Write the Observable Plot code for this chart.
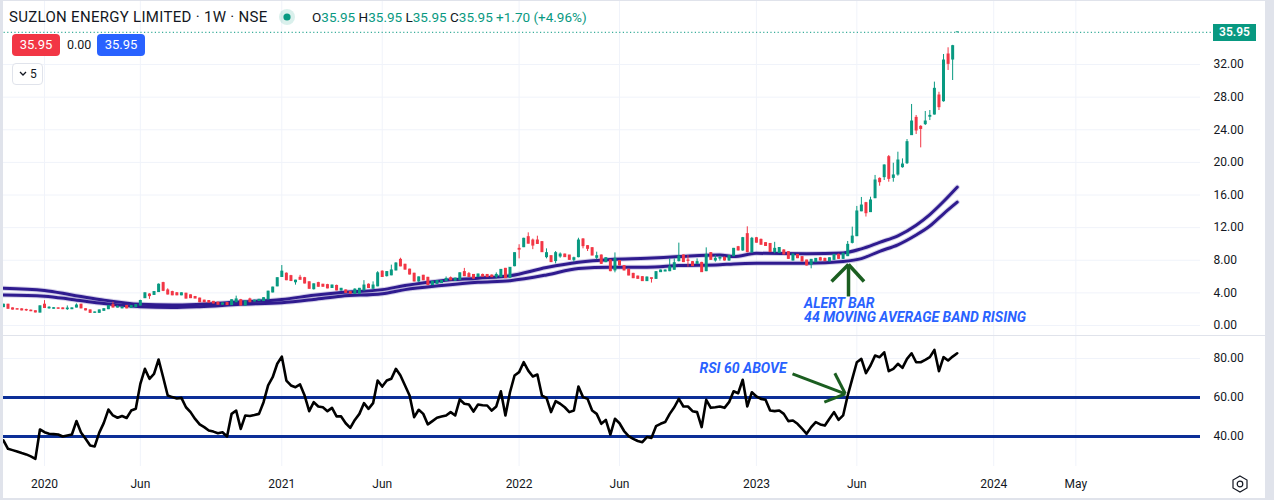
<!DOCTYPE html>
<html><head><meta charset="utf-8">
<script src="https://cdn.jsdelivr.net/npm/d3@7"></script>
<script src="https://cdn.jsdelivr.net/npm/@observablehq/plot@0.6"></script>
<style>
html,body{margin:0;padding:0;background:#fff;}
#wrap{position:relative;width:1274px;height:500px;overflow:hidden;background:#fff;font-family:Roboto,"Noto Sans",sans-serif;color:#131722;}
.abs{position:absolute;}
.svgpane{position:absolute;left:0;}
.gray{position:absolute;background:#e0e3eb;z-index:5;}
.box{position:absolute;height:22px;line-height:22px;border-radius:4px;color:#fff;font-size:13px;text-align:center;z-index:4;}
</style></head>
<body><div id="wrap">
  <div id="pricePane" class="svgpane" style="top:0"></div>
  <div id="rsiPane" class="svgpane" style="top:336px"></div>
</div>
<script>
// ---------- DATA ----------
const firstWeek = "2019-11-04";           // Monday of first weekly bar
const opens = [2.25,2.55,2.1,2.0,1.98,1.9,1.82,1.75,1.58,2.55,
 2.1,2.05,2.1,2.1,2.0,2.0,2.2,2.55,2.0,1.85,
 1.55,1.55,1.8,2.0,2.5,2.2,2.1,2.4,2.15,2.25,
 2.45,3.35,3.8,3.75,4.1,5.2,4.3,4.1,3.95,3.7,
 3.9,3.7,3.5,3.3,3.05,3.0,2.9,2.8,2.55,2.75,
 2.5,2.85,3.1,2.45,3.2,2.95,3.0,3.0,3.2,4.05,
 4.8,5.95,6.35,6.05,5.3,5.85,5.8,5.3,4.45,5.2,
 5.0,4.95,4.6,4.85,4.3,4.3,4.1,3.9,3.9,4.3,
 5.0,4.5,4.8,6.6,6.05,6.15,6.75,8.05,7.45,6.85,
 6.35,5.4,6.1,5.85,4.95,5.1,5.2,5.45,5.8,5.5,
 5.6,6.55,6.3,6.2,5.95,6.2,6.2,6.12,5.98,5.93,
 6.95,5.85,7.27,9.4,9.6,10.83,10.42,10.42,10.22,8.38,
 8.5,7.9,8.46,8.7,8.58,8.05,8.38,10.55,9.73,9.48,
 8.3,8.58,7.77,7.97,6.75,7.9,7.28,6.83,6.33,6.0,
 5.93,5.44,5.8,5.72,6.54,6.62,6.66,6.83,7.89,8.58,
 7.97,7.77,7.56,7.68,6.66,8.87,7.97,8.2,8.3,7.97,
 8.5,9.6,9.2,11.2,8.95,10.7,10.5,10.1,10.0,9.0,
 8.9,9.2,8.99,7.97,8.66,8.38,7.97,7.45,7.77,8.25,
 8.17,7.85,8.05,8.66,8.17,8.5,10.13,10.95,14.0,15.0,
 13.9,15.61,17.98,18.19,20.64,18.1,18.51,19.41,19.9,23.34,
 25.46,24.36,24.69,25.6,25.87,28.2,27.5,33.23,32.61,35.95];
const highs = [2.6,2.6,2.15,2.05,2.05,2.0,1.9,1.78,2.4,3.05,
 2.3,2.2,2.15,2.15,2.4,2.15,2.65,2.6,2.05,1.9,
 1.65,1.9,2.05,2.45,2.85,2.4,2.25,2.45,2.45,2.55,
 3.1,4.0,3.9,4.15,5.1,5.3,4.5,4.2,4.05,4.0,
 3.95,3.75,3.55,3.35,3.1,3.05,2.95,2.85,2.75,2.8,
 3.15,3.6,3.2,3.0,3.35,3.1,3.2,3.4,4.2,4.7,
 5.85,7.35,6.45,6.15,5.55,6.15,5.9,5.35,5.1,5.3,
 5.05,5.05,4.95,4.95,4.55,4.35,4.15,4.5,4.55,5.5,
 5.1,5.35,6.6,6.7,6.6,7.4,7.7,8.25,7.5,6.9,
 6.4,5.95,6.15,5.9,5.4,5.5,5.5,5.95,5.95,5.8,
 6.45,7.0,6.5,6.25,6.3,6.3,6.25,6.2,6.45,6.85,
 7.0,7.1,8.9,9.9,10.7,11.36,10.6,10.95,10.3,9.4,
 8.55,9.07,8.9,8.75,8.6,8.38,10.7,10.65,9.8,9.55,
 8.99,8.65,8.3,8.05,8.9,7.95,7.35,6.9,6.4,6.05,
 6.0,5.95,5.8,6.6,6.8,6.8,8.17,8.17,10.1,8.65,
 8.58,7.85,8.17,7.75,9.52,8.95,8.58,8.5,8.4,8.6,
 9.45,9.7,10.8,12.1,10.8,10.8,10.6,10.15,10.05,10.2,
 9.55,9.3,9.05,8.75,8.7,8.45,8.0,8.1,8.2,8.35,
 8.25,8.3,8.7,8.75,8.85,10.3,12.06,14.6,15.7,15.1,
 15.73,18.4,18.1,19.7,20.84,19.9,21.25,20.43,22.8,27.1,
 25.75,24.5,26.24,26.36,29.84,28.6,33.23,34.05,34.35,35.95];
const lows = [2.2,2.0,1.9,1.9,1.8,1.72,1.7,1.55,1.55,2.1,
 2.0,2.0,2.0,1.95,1.85,1.95,2.15,2.05,1.8,1.5,
 1.5,1.5,1.75,1.95,2.15,2.15,2.05,2.05,2.1,2.2,
 2.4,3.3,3.2,3.7,4.05,4.15,3.75,3.65,3.65,3.65,
 3.25,3.3,3.3,2.8,2.8,2.75,2.65,2.5,2.5,2.45,
 2.45,2.8,2.4,2.4,2.8,2.9,2.95,2.95,3.15,4.0,
 4.75,5.9,5.5,5.4,4.95,5.6,5.1,4.45,4.35,4.7,
 4.7,4.5,4.55,4.25,4.2,3.95,3.85,3.85,3.85,4.25,
 4.55,4.45,4.75,5.9,5.95,6.1,6.7,7.2,6.8,6.2,
 5.35,5.3,5.5,4.9,4.9,5.05,5.15,5.4,5.5,5.4,
 5.55,6.0,5.9,5.7,5.9,5.95,5.9,5.9,5.7,5.9,
 5.78,5.8,7.2,8.17,9.55,10.0,9.3,9.95,8.95,8.17,
 7.72,7.56,8.25,8.35,8.0,7.77,8.3,9.4,9.07,8.55,
 8.05,7.5,7.7,6.6,6.46,7.3,6.7,6.1,5.75,5.68,
 5.4,5.4,5.2,5.65,6.5,6.6,6.6,6.8,7.8,7.72,
 7.15,7.25,7.5,6.5,6.6,8.0,7.77,7.9,7.9,7.85,
 8.45,9.15,9.1,8.9,8.9,10.1,9.85,9.7,8.95,8.8,
 8.85,8.7,8.1,7.9,8.2,7.8,7.3,6.95,7.7,7.9,
 7.85,7.8,8.0,8.1,8.1,8.45,10.0,10.9,13.95,13.3,
 13.85,15.55,17.08,17.78,17.57,17.57,18.31,19.29,19.74,23.3,
 23.42,21.78,24.52,25.13,25.8,26.36,27.38,31.27,30.04,35.95];
const closes = [2.55,2.05,1.95,1.95,1.85,1.85,1.75,1.6,2.35,2.15,
 2.18,2.12,2.05,2.0,2.08,2.1,2.45,2.1,1.85,1.55,
 1.6,1.85,2.0,2.4,2.2,2.3,2.2,2.1,2.4,2.5,
 3.0,3.95,3.6,4.1,5.0,4.25,3.8,3.7,3.7,3.95,
 3.3,3.35,3.3,2.85,2.85,2.8,2.7,2.55,2.7,2.5,
 3.1,3.2,2.45,2.95,2.85,3.05,3.15,3.35,4.15,4.65,
 5.8,6.6,5.55,5.45,5.5,5.6,5.15,4.5,5.05,4.75,
 4.75,4.55,4.9,4.3,4.5,4.0,3.9,4.4,4.5,4.9,
 4.6,4.9,6.4,5.95,6.55,6.75,7.6,7.25,6.85,6.25,
 5.4,5.9,5.55,4.95,5.35,5.45,5.45,5.7,5.55,5.75,
 6.4,6.05,5.95,5.75,6.25,5.98,5.93,5.93,6.2,6.82,
 5.8,7.07,8.87,9.3,10.63,10.03,9.8,10.0,8.99,8.87,
 7.77,8.87,8.7,8.38,8.05,8.25,10.42,9.73,9.4,8.58,
 8.5,7.56,8.25,6.66,8.17,7.36,6.75,6.13,5.8,5.72,
 5.44,5.88,5.72,6.54,6.74,6.74,7.15,7.64,8.46,7.77,
 7.93,7.28,7.77,6.54,8.66,8.05,8.17,8.3,7.97,8.5,
 9.4,9.2,10.71,9.0,10.63,10.15,9.9,9.75,9.0,9.4,
 9.5,8.7,8.17,8.7,8.25,7.85,7.36,8.05,8.17,7.97,
 7.89,8.25,8.66,8.17,8.8,9.89,10.9,13.98,14.71,13.77,
 15.33,17.78,17.57,19.62,17.98,18.4,20.23,19.74,22.48,25.01,
 23.91,24.1,25.01,25.7,29.02,26.77,32.49,32.08,34.25,35.95];

// 44-period moving-average band (upper / lower), read at these bar numbers
const maWeek  = [0,9,15,21,30,37,43,52,61,68,74,83,88,96,104,111,119,126,133,141,148,157,160,165,176,184,188,192,196,200,203,206,209];
const maUpper = [4.58,4.3,3.75,3.2,2.6,2.5,2.6,2.9,3.2,3.7,4.05,4.4,4.9,5.5,5.8,6.1,7.1,7.75,8.1,8.25,8.45,8.65,8.45,8.85,8.8,8.9,9.4,10.2,11.0,12.3,13.6,15.2,16.96];
const maLower = [3.75,3.6,3.2,2.75,2.3,2.2,2.3,2.6,2.8,3.2,3.6,3.9,4.4,4.9,5.3,5.5,6.2,7.0,7.15,7.15,7.35,7.46,7.55,7.62,7.64,7.85,8.2,9.1,9.9,11.1,12.2,13.7,15.12];

// RSI, one value per weekly bar
const rsi = [38,33.7,33,32.3,31.5,30.8,29.8,28.5,43.6,42.2,
 41.4,41.2,41,40,40.5,41,47.9,42,38.8,35.4,
 34.9,42,47,53.8,50.8,49.6,50.5,49.5,53.3,54.2,
 67,74.7,69.6,72.1,79.5,70.4,61,60.2,59.5,59.8,
 55,52.5,49,46.2,44.8,43.1,42.5,41.7,42.2,40,
 51.6,53.3,43.9,50.8,50.5,51,51.6,57.6,66.2,70.4,
 77.3,81,68.7,66.2,65.3,66.7,61,53,57.6,55.4,
 55,53,54.7,50.3,50.3,46.8,44.4,48.5,51.6,57.1,
 54.2,57.1,68.7,65.6,68.7,69.6,74.7,71.3,66.2,61,
 49.9,53.7,51.6,46.2,47.9,49.6,50.2,50.8,52.5,50.8,
 59,56.8,56.4,52.8,56.4,56,55.9,53.3,55.4,63.2,
 50.8,62.7,71.3,73,78.1,73.8,70.8,71.8,61,59.8,
 52.5,58.1,56.8,55,52.5,53.3,65.6,60.2,59.3,53.3,
 51.6,46.5,48.5,41,49.1,46.8,42.8,40.2,38.8,37.7,
 37.1,39.7,39.3,45.3,46.5,47.4,51.6,55,59.3,55.4,
 55.4,53,52.5,44.8,58.8,54.7,55,55.4,54.7,57.6,
 63.2,62.2,69.1,55.4,62.7,60.5,59.3,58.8,53.3,53,
 53.3,51.6,47.9,48.2,46.5,44,41.4,44.8,47.4,46.2,
 45.6,49.1,52.5,48.5,50.8,61,69.6,78.1,79.8,72.5,
 76.4,81.5,80.7,83.2,73.5,74.7,77.3,75.2,79.8,82.7,
 78.1,78.1,79.3,80.7,84.4,73.5,80.7,79,81,82.7];
const rsiLevels = [60, 40];

const priceTicks = [0,4,8,12,16,20,24,28,32];
const rsiTicks = [40,60,80];
const tickDates = ["2020-01-06","2020-06-01","2021-01-04","2021-06-07","2022-01-03","2022-06-06","2023-01-02","2023-06-05","2024-01-01","2024-05-06"];
const tickLabels = ["2020","Jun","2021","Jun","2022","Jun","2023","Jun","2024","May"];

// annotations (bar number, value)
const alertText = [{w:175.45, v:2.70, t:"ALERT BAR"},{w:175.45, v:1.02, t:"44 MOVING AVERAGE BAND RISING"}];
const alertArrow = [{w1:185.18,v1:3.56,w2:185.18,v2:7.48},{w1:181.46,v1:5.39,w2:185.18,v2:7.48},{w1:188.58,v1:5.39,w2:185.18,v2:7.48}];
const rsiText = [{w:152.53, v:74.87, t:"RSI 60 ABOVE"}];
const rsiArrow = [{w1:172.91,v1:72.15,w2:184.48,v2:61.9},{w1:182.18,v1:72.46,w2:184.48,v2:61.9},{w1:179.88,v1:57.6,w2:184.48,v2:61.9}];

// ---------- BUILD ----------
const WEEK = 7*864e5;
const t0 = new Date(firstWeek).getTime();
const wk = w => new Date(t0 + w*WEEK);
const bull = "#089981", bear = "#f23645";
const candles = opens.map((o,i)=>({date:wk(i), o, h:highs[i], l:lows[i], c:closes[i]}));
const colr = d => d.c >= d.o ? bull : bear;
const maData = maWeek.map((w,i)=>({date:wk(w), u:maUpper[i], l:maLower[i]}));
const rsiData = rsi.map((v,i)=>({date:wk(i), v}));
const lastPrice = closes[closes.length-1];
const xTicks = tickDates.map(s=>new Date(s));
const labelOf = new Map(xTicks.map((d,i)=>[+d, tickLabels[i]]));
const xDomain = [wk(-0.642), wk(262.31)];
const grid = "#f0f3fa";
const maColor = "#2f1b8f";
const annBlue = "#2962ff";
const arrowGreen = "#1b5e20";
const style = {fontFamily:'Roboto,"Noto Sans",sans-serif', fontSize:"12px", color:"#131722", background:"transparent", overflow:"visible"};

const pricePlot = Plot.plot({
  width:1274, height:335, marginLeft:0, marginRight:74, marginTop:0, marginBottom:0,
  style,
  x:{type:"utc", domain:xDomain, axis:null},
  y:{domain:[-1.226, 39.85], axis:null},
  marks:[
    Plot.gridX(xTicks, {stroke:grid, strokeOpacity:1}),
    Plot.gridY(priceTicks, {stroke:grid, strokeOpacity:1}),
    Plot.axisY(priceTicks, {anchor:"right", tickSize:0, tickPadding:13, tickFormat:d=>d.toFixed(2), fill:"#131722"}),
    Plot.ruleY([lastPrice], {stroke:bull, strokeDasharray:"1.2,2.4", strokeWidth:1, insetRight:-13}),
    Plot.line(maData, {x:"date", y:"u", curve:"monotone-x", stroke:maColor, strokeWidth:5, strokeOpacity:0.2}),
    Plot.line(maData, {x:"date", y:"l", curve:"monotone-x", stroke:maColor, strokeWidth:5, strokeOpacity:0.2}),
    Plot.line(maData, {x:"date", y:"u", curve:"monotone-x", stroke:maColor, strokeWidth:3}),
    Plot.line(maData, {x:"date", y:"l", curve:"monotone-x", stroke:maColor, strokeWidth:3}),
    Plot.ruleX(candles, {x:"date", y1:"l", y2:"h", stroke:colr, strokeWidth:1}),
    Plot.ruleX(candles, {x:"date", y1:d=>Math.max(d.o,d.c), y2:d=>Math.min(d.o,d.c), stroke:colr, strokeWidth:3, insetTop:-0.5, insetBottom:-0.5}),
    Plot.link(alertArrow, {x1:d=>wk(d.w1), y1:"v1", x2:d=>wk(d.w2), y2:"v2", stroke:arrowGreen, strokeWidth:3.5, strokeLinecap:"butt"}),
    Plot.text(alertText, {x:d=>wk(d.w), y:"v", text:"t", textAnchor:"start", fill:annBlue, fontSize:14, fontWeight:"bold", fontStyle:"italic"})
  ]
});
document.getElementById("pricePane").append(pricePlot);

const rsiPlot = Plot.plot({
  width:1274, height:164, marginLeft:0, marginRight:74, marginTop:0, marginBottom:34,
  style,
  x:{type:"utc", domain:xDomain, axis:null},
  y:{domain:[24.6, 91.3], axis:null},
  marks:[
    Plot.gridX(xTicks, {stroke:grid, strokeOpacity:1}),
    Plot.gridY([80], {stroke:grid, strokeOpacity:1}),
    Plot.ruleY(rsiLevels, {stroke:"#0c2f97", strokeWidth:3}),
    Plot.line(rsiData, {x:"date", y:"v", stroke:"#000", strokeWidth:2.6, strokeLinejoin:"round"}),
    Plot.axisY(rsiTicks, {anchor:"right", tickSize:0, tickPadding:13, tickFormat:d=>d.toFixed(2), fill:"#131722"}),
    Plot.axisX(xTicks, {anchor:"bottom", tickSize:0, tickPadding:13, tickFormat:d=>labelOf.get(+d), fill:"#131722"}),
    Plot.link(rsiArrow, {x1:d=>wk(d.w1), y1:"v1", x2:d=>wk(d.w2), y2:"v2", stroke:arrowGreen, strokeWidth:3, strokeLinecap:"butt"}),
    Plot.text(rsiText, {x:d=>wk(d.w), y:"v", text:"t", textAnchor:"start", fill:annBlue, fontSize:14, fontWeight:"bold", fontStyle:"italic"})
  ]
});
document.getElementById("rsiPane").append(rsiPlot);

// ---------- HEADER / DECORATIONS ----------
const wrap = document.getElementById("wrap");
function add(html){ wrap.insertAdjacentHTML("beforeend", html); }
add(`<div class="abs" style="left:9px;top:7px;font-size:15px;letter-spacing:0.3px;line-height:20px;z-index:4;white-space:nowrap;">SUZLON ENERGY LIMITED · 1W · NSE</div>`);
add(`<svg class="abs" style="left:277px;top:7px;z-index:4" width="20" height="20"><circle cx="10" cy="10" r="8" fill="#089981" fill-opacity="0.15"/><circle cx="10" cy="10" r="3.6" fill="#089981"/></svg>`);
const g = s=>`<span style="color:${bull}">${s}</span>`;
add(`<div class="abs" style="left:312px;top:8px;font-size:13.5px;line-height:18px;z-index:4;white-space:nowrap;">O${g("35.95")} H${g("35.95")} L${g("35.95")} C${g("35.95")} ${g("+1.70 (+4.96%)")}</div>`);
add(`<div class="box" style="left:12px;top:34px;width:48px;background:#f23645;">35.95</div>`);
add(`<div class="abs" style="left:67px;top:34px;font-size:12.5px;line-height:22px;z-index:4;">0.00</div>`);
add(`<div class="box" style="left:97px;top:34px;width:48px;background:#2962ff;">35.95</div>`);
add(`<div class="abs" style="left:12px;top:63px;width:29px;height:20px;border:1px solid #e0e3eb;border-radius:4px;background:#fff;z-index:4;font-size:12px;line-height:20px;"><svg style="position:absolute;left:6px;top:7px" width="8" height="6"><path d="M1 1 L4 4 L7 1" fill="none" stroke="#131722" stroke-width="1.3"/></svg><span style="position:absolute;left:17px;">5</span></div>`);
add(`<div class="abs" style="left:1213px;top:24px;width:43px;height:17px;line-height:17px;background:#089981;color:#fff;font-size:12px;font-weight:600;text-align:center;z-index:4;">35.95</div>`);
add(`<svg class="abs" style="left:1230px;top:474px;z-index:4" width="20" height="20"><polygon points="10,2 17,6 17,14 10,18 3,14 3,6" fill="none" stroke="#131722" stroke-width="1.2"/><circle cx="10" cy="10" r="2.8" fill="none" stroke="#131722" stroke-width="1.2"/></svg>`);
// frame
add(`<div class="gray" style="left:0;top:0;width:3px;height:500px;"></div>`);
add(`<div class="gray" style="left:1265px;top:0;width:9px;height:500px;"></div>`);
add(`<div class="gray" style="left:0;top:0;width:1274px;height:1px;"></div>`);
add(`<div class="gray" style="left:0;top:498px;width:1274px;height:2px;"></div>`);
add(`<div class="gray" style="left:3px;top:335px;width:1262px;height:1px;"></div>`);
</script>
</body></html>
